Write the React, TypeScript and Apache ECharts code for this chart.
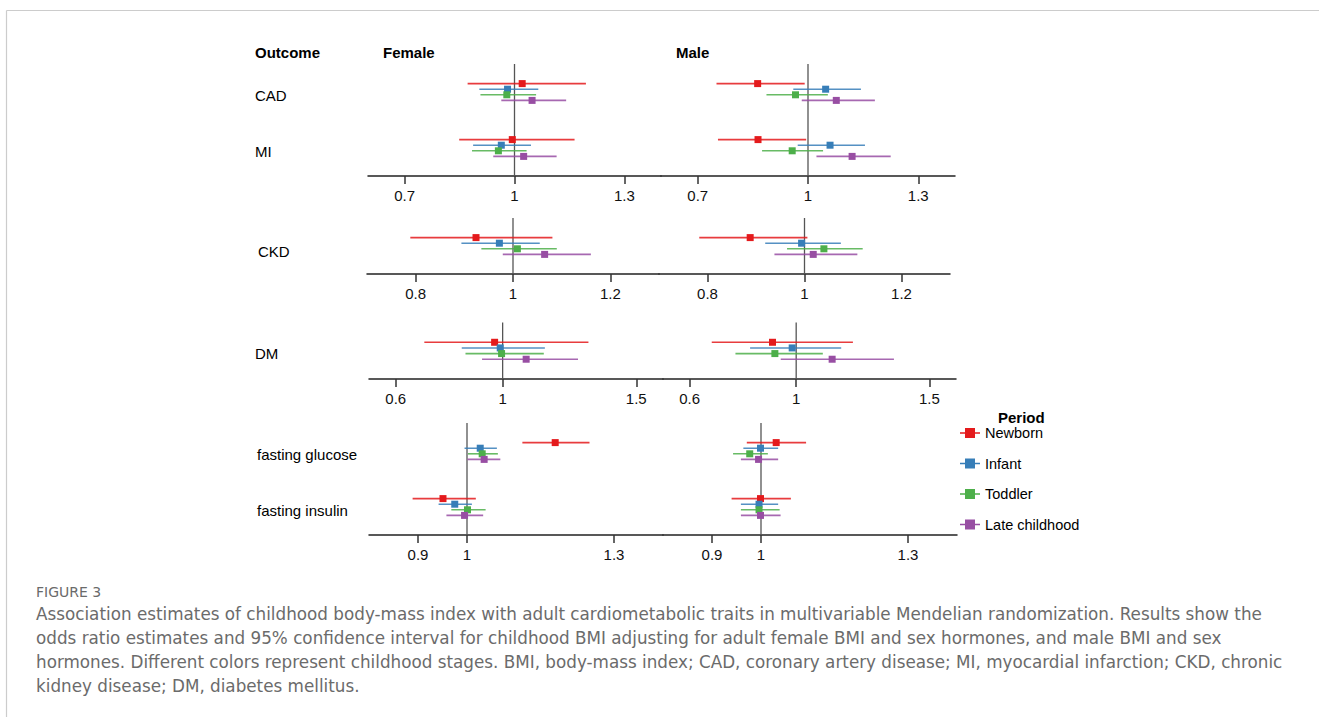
import React, { useEffect, useRef } from "react";
import * as echarts from "echarts";

// ---- Categories ----
const periods = ["Newborn", "Infant", "Toddler", "Late childhood"];
const periodColors = ["#E41A1C", "#377EB8", "#4DAF4A", "#984EA3"];

const outcomesCardio = ["CAD", "MI"];
const outcomesKidney = ["CKD"];
const outcomesDiabetes = ["DM"];
const outcomesGlycemic = ["fasting glucose", "fasting insulin"];

// ---- Estimates: each row = [OR, lower 95% CI, upper 95% CI] for Newborn, Infant, Toddler, Late childhood ----
const femaleCAD = [[1.021, 0.872, 1.195], [0.981, 0.904, 1.065], [0.979, 0.907, 1.059], [1.048, 0.964, 1.141]];
const femaleMI = [[0.994, 0.849, 1.164], [0.964, 0.887, 1.045], [0.956, 0.884, 1.033], [1.025, 0.942, 1.115]];
const maleCAD = [[0.863, 0.751, 0.991], [1.048, 0.96, 1.144], [0.966, 0.887, 1.054], [1.077, 0.983, 1.182]];
const maleMI = [[0.864, 0.755, 0.995], [1.06, 0.972, 1.155], [0.957, 0.875, 1.041], [1.12, 1.023, 1.225]];

const femaleCKD = [[0.924, 0.789, 1.081], [0.972, 0.894, 1.055], [1.009, 0.935, 1.09], [1.065, 0.979, 1.16]];
const maleCKD = [[0.888, 0.783, 1.006], [0.994, 0.919, 1.075], [1.04, 0.964, 1.12], [1.018, 0.938, 1.109]];

const femaleDM = [[0.97, 0.707, 1.321], [0.991, 0.847, 1.158], [0.996, 0.861, 1.154], [1.088, 0.923, 1.282]];
const maleDM = [[0.911, 0.683, 1.213], [0.985, 0.827, 1.169], [0.92, 0.772, 1.1], [1.135, 0.942, 1.367]];

const femaleGlucose = [[1.18, 1.113, 1.25], [1.027, 0.995, 1.061], [1.031, 1.002, 1.063], [1.035, 1.001, 1.068]];
const femaleInsulin = [[0.951, 0.889, 1.018], [0.975, 0.942, 1.01], [1.001, 0.968, 1.038], [0.995, 0.958, 1.033]];
const maleGlucose = [[1.031, 0.971, 1.092], [0.999, 0.964, 1.035], [0.977, 0.943, 1.014], [0.995, 0.959, 1.035]];
const maleInsulin = [[0.999, 0.94, 1.061], [0.996, 0.959, 1.035], [0.996, 0.959, 1.038], [0.999, 0.959, 1.04]];

// ---- Tick labels ----
const ticksCardio = [0.7, 1, 1.3];
const ticksKidney = [0.8, 1, 1.2];
const ticksDiabetes = [0.6, 1, 1.5];
const ticksGlycemic = [0.9, 1, 1.3];

const FONT = "Liberation Sans, Arial, Helvetica, sans-serif";
const CAPTION_FONT = "DejaVu Sans, Verdana, sans-serif";

const captionTitle = "FIGURE 3";
const captionLines = [
  "Association estimates of childhood body-mass index with adult cardiometabolic traits in multivariable Mendelian randomization. Results show the",
  "odds ratio estimates and 95% confidence interval for childhood BMI adjusting for adult female BMI and sex hormones, and male BMI and sex",
  "hormones. Different colors represent childhood stages. BMI, body-mass index; CAD, coronary artery disease; MI, myocardial infarction; CKD, chronic",
  "kidney disease; DM, diabetes mellitus.",
];

// Layout of panels (positions only); labelDrop = vertical offset of outcome label below row centre
const panelLayout = [
  { top: 64, height: 112, fLeft: 368, fW: 293, mLeft: 661, mW: 294, labelMargin: 113, labelDrop: 3 },
  { top: 218, height: 56, fLeft: 367, fW: 292, mLeft: 659, mW: 291, labelMargin: 109, labelDrop: 5 },
  { top: 322.5, height: 56.5, fLeft: 369, fW: 294, mLeft: 663, mW: 293, labelMargin: 114, labelDrop: 2.5 },
  { top: 423, height: 112, fLeft: 369, fW: 294, mLeft: 663, mW: 294, labelMargin: 112, labelDrop: 3 },
];

const panelData = [
  { outcomes: outcomesCardio, female: [femaleCAD, femaleMI], male: [maleCAD, maleMI], min: 0.6, max: 1.4, ticks: ticksCardio },
  { outcomes: outcomesKidney, female: [femaleCKD], male: [maleCKD], min: 0.7, max: 1.3, ticks: ticksKidney },
  { outcomes: outcomesDiabetes, female: [femaleDM], male: [maleDM], min: 0.5, max: 1.6, ticks: ticksDiabetes },
  { outcomes: outcomesGlycemic, female: [femaleGlucose, femaleInsulin], male: [maleGlucose, maleInsulin], min: 0.8, max: 1.4, ticks: ticksGlycemic },
];

function buildOption() {
  const grid: any[] = [];
  const xAxis: any[] = [];
  const yAxis: any[] = [];
  const series: any[] = [];

  panelData.forEach((p, pi) => {
    const lay = panelLayout[pi];
    const n = p.outcomes.length;
    const yMin = -0.5;
    const yMax = n - 0.5;
    const sexes = [
      { left: lay.fLeft, width: lay.fW, rows: p.female, showLabels: true },
      { left: lay.mLeft, width: lay.mW, rows: p.male, showLabels: false },
    ];
    sexes.forEach((s) => {
      const gi = grid.length;
      grid.push({ left: s.left, top: lay.top, width: s.width, height: lay.height, containLabel: false });
      xAxis.push({
        type: "value",
        gridIndex: gi,
        min: p.min,
        max: p.max,
        axisLine: { show: true, onZero: false, lineStyle: { color: "#222", width: 1.5 } },
        axisTick: { show: true, length: 8, customValues: p.ticks, lineStyle: { color: "#333", width: 1.5 } },
        axisLabel: { customValues: p.ticks, fontSize: 15, color: "#111", margin: 12, fontFamily: FONT },
        splitLine: { show: false },
      });
      yAxis.push({
        type: "value",
        gridIndex: gi,
        min: yMin,
        max: yMax,
        inverse: true,
        axisLine: { show: false },
        axisTick: { show: false },
        splitLine: { show: false },
        axisLabel: {
          show: s.showLabels,
          customValues: p.outcomes.map((_, k) => k),
          formatter: (v: number) => p.outcomes[Math.round(v)] ?? "",
          align: "left",
          verticalAlign: "top",
          lineHeight: lay.labelDrop * 2,
          margin: lay.labelMargin,
          fontSize: 15,
          color: "#000",
          fontFamily: FONT,
        },
      });
      // reference line at OR = 1
      series.push({
        type: "custom",
        xAxisIndex: gi,
        yAxisIndex: gi,
        silent: true,
        z: 2,
        encode: { x: 0, y: 1 },
        data: [[1, yMin, yMax]],
        renderItem: (params: any, api: any) => {
          const a = api.coord([api.value(0), api.value(1)]);
          const b = api.coord([api.value(0), api.value(2)]);
          return {
            type: "line",
            shape: { x1: a[0], y1: a[1], x2: b[0], y2: b[1] },
            style: { stroke: "#555", lineWidth: 1.3 },
          };
        },
      });
      periods.forEach((name, j) => {
        const color = periodColors[j];
        const data = p.outcomes.map((_, k) => {
          const r = s.rows[k][j];
          return [r[0], r[1], r[2], k];
        });
        series.push({
          type: "custom",
          name,
          xAxisIndex: gi,
          yAxisIndex: gi,
          itemStyle: { color },
          encode: { x: [0, 1, 2], y: 3 },
          data,
          z: 3,
          renderItem: (params: any, api: any) => {
            const k = api.value(3);
            const unit = api.size([0, 1])[1];
            const dy = (j - 1.5) * 0.1 * unit;
            const c = api.coord([api.value(0), k]);
            const l = api.coord([api.value(1), k]);
            const h = api.coord([api.value(2), k]);
            const y = c[1] + dy;
            return {
              type: "group",
              children: [
                { type: "line", shape: { x1: l[0], y1: y, x2: h[0], y2: y }, style: { stroke: color, lineWidth: 1.6, opacity: 0.85 } },
                { type: "rect", shape: { x: c[0] - 3.5, y: y - 3.5, width: 7, height: 7 }, style: { fill: color } },
              ],
            };
          },
        });
      });
    });
  });

  const graphic: any[] = [
    { type: "line", shape: { x1: 6.5, y1: 10.5, x2: 1319, y2: 10.5 }, style: { stroke: "#cccccc", lineWidth: 1.2 } },
    { type: "line", shape: { x1: 6.5, y1: 10.5, x2: 6.5, y2: 717 }, style: { stroke: "#cccccc", lineWidth: 1.2 } },
    { type: "text", x: 255, y: 52, style: { text: "Outcome", fontSize: 15, fontWeight: "bold", fontFamily: FONT, fill: "#000", verticalAlign: "middle" } },
    { type: "text", x: 383, y: 52, style: { text: "Female", fontSize: 15, fontWeight: "bold", fontFamily: FONT, fill: "#000", verticalAlign: "middle" } },
    { type: "text", x: 676, y: 52, style: { text: "Male", fontSize: 15, fontWeight: "bold", fontFamily: FONT, fill: "#000", verticalAlign: "middle" } },
    { type: "text", x: 998, y: 417, style: { text: "Period", fontSize: 15, fontWeight: "bold", fontFamily: FONT, fill: "#000", verticalAlign: "middle" } },
    { type: "text", x: 36, y: 592, style: { text: captionTitle, fontSize: 14, fontFamily: CAPTION_FONT, fill: "#6a6a6a", verticalAlign: "middle" } },
    {
      type: "text",
      x: 36,
      y: 602,
      style: { text: captionLines.join("\n"), fontSize: 16.8, lineHeight: 24, fontFamily: CAPTION_FONT, fill: "#6b6b6b", verticalAlign: "top" },
    },
  ];

  return {
    animation: false,
    backgroundColor: "#ffffff",
    grid,
    xAxis,
    yAxis,
    series,
    graphic,
    legend: {
      orient: "vertical",
      left: 960,
      top: 425,
      padding: 0,
      itemWidth: 20,
      itemHeight: 10,
      itemGap: 14.5,
      icon: "path://M0,4.3L5,4.3L5,0L15,0L15,4.3L20,4.3L20,5.7L15,5.7L15,10L5,10L5,5.7L0,5.7Z",
      data: periods,
      selectedMode: false,
      textStyle: { fontSize: 14.5, lineHeight: 16, fontFamily: FONT, color: "#000" },
    },
  };
}

export default function App() {
  const ref = useRef<HTMLDivElement>(null);
  useEffect(() => {
    if (!ref.current) return;
    const chart = echarts.init(ref.current, undefined, { renderer: "svg" });
    chart.setOption(buildOption() as any);
    return () => chart.dispose();
  }, []);
  return (
    <div
      ref={ref}
      style={{ position: "fixed", left: 0, top: 0, width: 1319, height: 717, background: "#fff" }}
    />
  );
}
